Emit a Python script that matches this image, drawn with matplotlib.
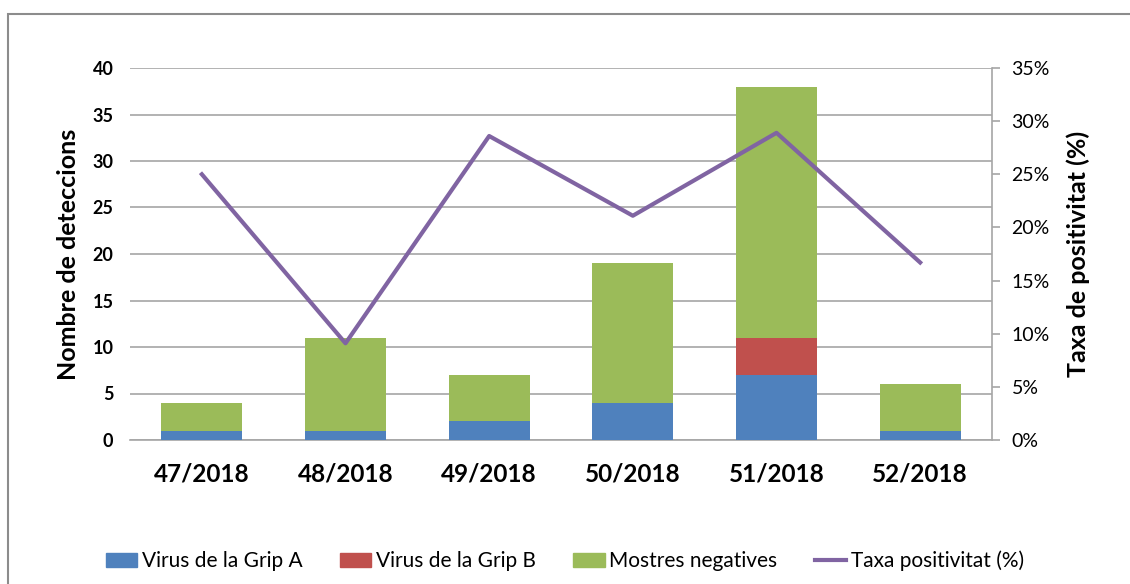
import matplotlib.pyplot as plt
import numpy as np
from matplotlib.ticker import MultipleLocator, FuncFormatter
from matplotlib.patches import Rectangle
from matplotlib.lines import Line2D

plt.rcParams['font.family'] = ['Lato', 'DejaVu Sans']

weeks = ["47/2018", "48/2018", "49/2018", "50/2018", "51/2018", "52/2018"]
grip_a = [1, 1, 2, 4, 7, 1]
grip_b = [0, 0, 0, 0, 4, 0]
negatives = [3, 10, 5, 15, 27, 5]
positivity = [25.0, 9.1, 28.6, 21.1, 28.9, 16.7]

col_a = "#4F81BD"
col_b = "#C0504D"
col_neg = "#9BBB59"
col_line = "#8064A2"
grid_col = "#A6A6A6"

figure = plt.figure(figsize=(11.3, 5.84), dpi=100)
# outer chart frame (right and bottom edges fall outside the image)
figure.patches.append(Rectangle((8 / 1130, -0.1), 1.2, (584 - 14) / 584 + 0.1,
                                transform=figure.transFigure, fill=False,
                                edgecolor="#8C8C8C", linewidth=1.5))

axes = figure.add_axes([130 / 1130, 144 / 584, 862 / 1130, 372 / 584])
x = np.arange(len(weeks))
width = 0.565
bottom_b = np.array(grip_a)
bottom_neg = bottom_b + np.array(grip_b)
axes.bar(x, grip_a, width, color=col_a, zorder=3)
axes.bar(x, grip_b, width, bottom=bottom_b, color=col_b, zorder=3)
axes.bar(x, negatives, width, bottom=bottom_neg, color=col_neg, zorder=3)

axes.set_xlim(-0.5, len(weeks) - 0.5)
axes.set_ylim(0, 40)
axes.yaxis.set_major_locator(MultipleLocator(5))
axes.grid(axis="y", color=grid_col, linewidth=1.2, zorder=0)
axes.set_axisbelow(True)
for side in ["left", "right", "top"]:
    axes.spines[side].set_visible(False)
axes.spines["bottom"].set_color(grid_col)
axes.spines["bottom"].set_linewidth(1.2)
axes.tick_params(axis="y", length=0, pad=12, labelsize=13)
axes.tick_params(axis="x", length=0, pad=16, labelsize=17.5)
axes.set_xticks(x)
axes.set_xticklabels(weeks, fontweight="bold")
for lbl in axes.get_yticklabels():
    lbl.set_fontweight("bold")
axes.set_ylabel("Nombre de deteccions", fontsize=18, fontweight="bold", labelpad=9)

axes2 = axes.twinx()
axes2.plot(x, positivity, color=col_line, linewidth=3, zorder=4)
axes2.set_ylim(0, 35)
axes2.yaxis.set_major_locator(MultipleLocator(5))
axes2.yaxis.set_major_formatter(FuncFormatter(lambda v, p: f"{int(round(v))}%"))
for side in ["left", "top", "bottom"]:
    axes2.spines[side].set_visible(False)
axes2.spines["right"].set_color(grid_col)
axes2.spines["right"].set_linewidth(1.2)
axes2.tick_params(axis="y", direction="out", length=6, width=1.2, color=grid_col,
                  labelsize=14, pad=8)
axes2.set_ylabel("Taxa de positivitat (%)", fontsize=18, fontweight="bold", labelpad=12)

handles = [Rectangle((0, 0), 1, 1, color=col_a), Rectangle((0, 0), 1, 1, color=col_b),
           Rectangle((0, 0), 1, 1, color=col_neg), Line2D([], [], color=col_line, linewidth=3)]
labels = ["Virus de la Grip A", "Virus de la Grip B", "Mostres negatives", "Taxa positivitat (%)"]
figure.legend(handles, labels, loc="center", bbox_to_anchor=(0.5, 23 / 584), ncol=4,
              frameon=False, fontsize=15, handlelength=1.5, handleheight=0.6,
              handletextpad=0.23, columnspacing=1.8)

figure.savefig("out.png", dpi=100)
